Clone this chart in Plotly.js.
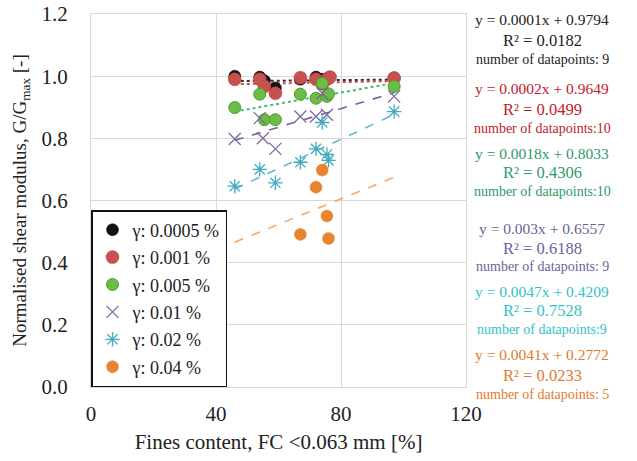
<!DOCTYPE html>
<html>
<head>
<meta charset="utf-8">
<script src="https://cdn.plot.ly/plotly-3.0.1.min.js"></script>
<style>html,body{margin:0;padding:0;background:#fff;}#chart{width:637px;height:461px;}</style>
</head>
<body>
<div id="chart"></div>
<script>
// ---- data ----
const seriesNames = ["γ: 0.0005 %", "γ: 0.001 %", "γ: 0.005 %", "γ: 0.01 %", "γ: 0.02 %", "γ: 0.04 %"];
const fc_0005 = [46, 54, 55.5, 59, 67, 72, 74, 76, 97];
const g_0005  = [1.0, 0.997, 0.985, 0.962, 0.99, 0.997, 0.99, 0.995, 0.995];
const fc_001  = [46, 54, 55.5, 59, 67, 72, 74, 75.5, 76.5, 97];
const g_001   = [0.99, 0.99, 0.967, 0.945, 0.995, 0.99, 0.975, 0.99, 0.997, 0.993];
const fc_005  = [46, 54, 55.5, 59, 67, 72, 74, 75.5, 76, 97];
const g_005   = [0.899, 0.942, 0.86, 0.86, 0.942, 0.929, 0.977, 0.935, 0.943, 0.967];
const fc_01   = [46, 54, 55, 59, 67, 72, 74, 75.5, 97];
const g_01    = [0.798, 0.865, 0.80, 0.766, 0.87, 0.87, 0.945, 0.876, 0.935];
const fc_02   = [46, 54, 59, 67, 72, 74, 75.5, 76, 97];
const g_02    = [0.646, 0.70, 0.657, 0.723, 0.766, 0.851, 0.748, 0.729, 0.886];
const fc_04   = [67, 72, 74, 75.5, 76];
const g_04    = [0.491, 0.643, 0.698, 0.55, 0.478];
// trend line coefficients (slope, intercept) as printed, and their x-span
const slopes     = [0.0001, 0.0002, 0.0018, 0.003, 0.0047, 0.0041];
const intercepts = [0.9794, 0.9649, 0.8033, 0.6557, 0.4209, 0.2772];
const trendX     = [46, 97];
const eqLabels   = ["y = 0.0001x + 0.9794", "y = 0.0002x + 0.9649", "y = 0.0018x + 0.8033",
                    "y = 0.003x + 0.6557", "y = 0.0047x + 0.4209", "y = 0.0041x + 0.2772"];
const r2Labels   = ["R² = 0.0182", "R² = 0.0499", "R² = 0.4306", "R² = 0.6188", "R² = 0.7528", "R² = 0.0233"];
const nLabels    = ["number of datapoints: 9", "number of datapoints:10", "number of datapoints:10",
                    "number of datapoints: 9", "number of datapoints:9", "number of datapoints: 5"];
const xTicks = [0, 40, 80, 120];
const yTicks = [0.0, 0.2, 0.4, 0.6, 0.8, 1.0, 1.2];

// ---- styles ----
const FONT = "Liberation Serif";
const markerStyles = [
  {symbol: "circle", size: 12, color: "#111111", line: {color: "#000000", width: 0.5}},
  {symbol: "circle", size: 13, color: "#C8504F", line: {color: "#B94442", width: 0.5}},
  {symbol: "circle", size: 12, color: "#6CBD45", line: {color: "#4E9A33", width: 1}},
  {symbol: "x-thin-open", size: 12, color: "#7D6A9E", line: {color: "#7D6A9E", width: 1.3}},
  {symbol: "asterisk-open", size: 12, color: "#45A9C2", line: {color: "#45A9C2", width: 1.3}},
  {symbol: "circle", size: 12, color: "#E8832F", line: {color: "#E8832F", width: 0.5}}
];
const lineStyles = [
  {color: "#3a2a2a", dash: "dot", width: 2},
  {color: "#C0504D", dash: "dot", width: 2},
  {color: "#3DBE70", dash: "dot", width: 2},
  {color: "#7A5FA0", dash: "dash", width: 1.6},
  {color: "#5AB4D2", dash: "dash", width: 1.5},
  {color: "#F4A261", dash: "dash", width: 1.5}
];
const textColors = ["#222222", "#C0202A", "#2E9A6A", "#6A639C", "#33C2C8", "#E07A2E"];

const xs = [fc_0005, fc_001, fc_005, fc_01, fc_02, fc_04];
const ys = [g_0005, g_001, g_005, g_01, g_02, g_04];

const traces = [];
for (let i = 0; i < 6; i++) {
  traces.push({
    x: trendX, y: trendX.map(v => slopes[i] * v + intercepts[i]),
    mode: "lines", line: lineStyles[i], showlegend: false, hoverinfo: "skip",
    legendgroup: "t" + i
  });
}
for (let i = 0; i < 6; i++) {
  traces.push({
    x: xs[i], y: ys[i], mode: "markers", name: seriesNames[i],
    marker: markerStyles[i], legendgroup: "g" + i
  });
}

const blockY = [[0.984, 0.928, 0.879], [0.799, 0.743, 0.694], [0.627, 0.576, 0.525],
                [0.426, 0.370, 0.322], [0.257, 0.204, 0.153], [0.086, 0.032, -0.019]];
const annotations = [];
for (let i = 0; i < 6; i++) {
  const labs = [eqLabels[i], r2Labels[i], nLabels[i]];
  const sizes = [15.5, 16.5, 14];
  for (let k = 0; k < 3; k++) {
    annotations.push({
      xref: "paper", yref: "paper", x: 1.203, y: blockY[i][k],
      xanchor: "center", yanchor: "middle", showarrow: false,
      text: labs[k], font: {family: FONT, size: sizes[k], color: textColors[i]}
    });
  }
}

const layout = {
  width: 637, height: 461,
  margin: {l: 91, r: 171, t: 14, b: 74},
  paper_bgcolor: "#ffffff", plot_bgcolor: "#ffffff",
  font: {family: FONT, size: 20, color: "#222222"},
  showlegend: true,
  legend: {
    x: 0, y: 0, xanchor: "left", yanchor: "bottom",
    bgcolor: "#ffffff", bordercolor: "#111111", borderwidth: 1.5,
    font: {family: FONT, size: 18, color: "#222222"},
    itemwidth: 30, tracegroupgap: 1, traceorder: "grouped"
  },
  xaxis: {
    range: [0, 120], tickvals: xTicks, ticktext: xTicks.map(String),
    showgrid: true, gridcolor: "#d9d9d9", gridwidth: 1,
    zeroline: false, showline: true, linecolor: "#d9d9d9", mirror: true,
    ticks: "", ticklabelstandoff: 8,
    tickfont: {family: FONT, size: 21, color: "#222222"},
    title: {text: "Fines content, FC <0.063 mm [%]", font: {family: FONT, size: 21, color: "#222222"}, standoff: 9}
  },
  yaxis: {
    range: [0, 1.2], tickvals: yTicks, ticktext: yTicks.map(v => v.toFixed(1)),
    showgrid: true, gridcolor: "#d9d9d9", gridwidth: 1,
    zeroline: false, showline: true, linecolor: "#d9d9d9", mirror: true,
    ticks: "", ticklabelstandoff: 18,
    tickfont: {family: FONT, size: 21, color: "#222222"},
    title: {text: "Normalised shear modulus, G/G<sub>max</sub> [-]", font: {family: FONT, size: 19, color: "#222222"}, standoff: 9}
  },
  annotations: annotations
};

Plotly.newPlot("chart", traces, layout, {displayModeBar: false, staticPlot: true});
</script>
</body>
</html>
